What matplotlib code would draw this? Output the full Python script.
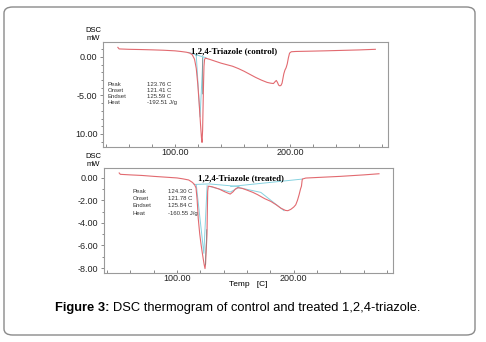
import matplotlib
matplotlib.use("Agg")
import matplotlib.pyplot as plt
from matplotlib.patches import FancyBboxPatch
from matplotlib.ticker import FixedLocator, MultipleLocator

plt.rcParams['font.family'] = ['Liberation Sans', 'DejaVu Sans']

# control run (top)
ctrl_temp = [50.4, 51.5, 60, 70, 80, 90, 100, 105, 110, 113, 115, 117, 118.5, 119.8,
             121, 122.2, 123.0, 123.5, 124.0, 124.4, 124.8, 125.2, 125.7, 126.5, 130,
             135, 140, 145, 150, 155, 160, 165, 170, 175, 180, 183, 185.5, 187, 188,
             189, 190, 191, 192, 193, 193.5, 194.5, 195.5, 196.5, 197.5, 198.5, 199.5,
             201, 205, 215, 230, 245, 260, 274]
ctrl_dsc = [1.25, 1.05, 1.0, 0.97, 0.93, 0.88, 0.8, 0.72, 0.62, 0.5, 0.3, -0.3, -1.5, -3.5,
            -6.0, -8.8, -10.5, -11.1, -9.5, -6.5, -3.5, -1.2, -0.3, -0.15, -0.3,
            -0.55, -0.8, -1.0, -1.2, -1.5, -1.85, -2.25, -2.65, -3.0, -3.3, -3.4, -3.45, -3.2, -3.05,
            -3.3, -3.65, -3.75, -3.7, -3.4, -3.0, -2.2, -1.7, -1.4, -0.9, -0.1, 0.5,
            0.68, 0.72, 0.75, 0.8, 0.86, 0.92, 1.0]
ctrl_base_t = [111.5, 127.0]
ctrl_base_v = [0.6, -0.1]
ctrl_v_t = [118.5, 121.8, 124.3]
ctrl_v_v = [0.2, -7.8, -0.05]
ctrl_end_t = [124.0, 123.8]
ctrl_end_v = [-0.1, -4.8]

# treated run (bottom)
trt_temp = [50.5, 51.5, 60, 70, 80, 90, 100, 105, 110, 113, 115, 116.3, 117.3, 118.2,
            119.5, 120.6, 121.6, 122.5, 123.3, 124.0, 124.5, 125.0, 125.7, 126.0, 126.3,
            126.8, 130, 136, 141, 145.6, 148, 150, 152, 156, 160, 165, 169, 175, 180.4,
            185, 189, 193, 195, 197.5, 200, 201.7, 203.2, 204.6, 205.8, 206.6, 207.1,
            207.4, 210.3, 220, 240, 260, 273]
trt_dsc = [0.42, 0.3, 0.25, 0.2, 0.12, 0.05, -0.02, -0.1, -0.2, -0.4, -0.6, -0.9, -2.0, -3.6,
           -5.0, -5.9, -6.6, -7.2, -7.7, -8.05, -7.6, -6.5, -5.0, -3.0, -1.2,
           -0.75, -0.8, -1.0, -1.25, -1.45, -1.25, -1.0, -0.88, -0.95, -1.1, -1.3, -1.5, -1.85, -2.1,
           -2.4, -2.7, -2.9, -2.92, -2.8, -2.6, -2.4, -2.0, -1.5, -1.0, -0.75, -0.3,
           -0.12, -0.03, 0.02, 0.12, 0.25, 0.35]
trt_base_a_t = [114.5, 127.5, 153.0]
trt_base_a_v = [-0.6, -0.55, -0.78]
trt_base_b_t = [146.0, 207.4]
trt_base_b_v = [-0.78, -0.12]
trt_dip_t = [127.6, 145.6, 153.3]
trt_dip_v = [-0.76, -1.27, -0.85]
trt_broad_t = [151.9, 171.8, 191.7]
trt_broad_v = [-0.85, -1.3, -2.92]
trt_v_t = [116.5, 123.0, 125.8]
trt_v_v = [-0.6, -6.7, -0.7]
trt_end_t = [125.5, 124.3]
trt_end_v = [-4.6, -7.7]

ctrl_labels = ["Peak", "Onset", "Endset", "Heat"]
ctrl_values = ["123.76 C", "121.41 C", "125.59 C", "-192.51 J/g"]
trt_values = ["124.30 C", "121.78 C", "125.84 C", "-160.55 J/g"]

W, H = 486, 342
fig = plt.figure(figsize=(W / 100, H / 100), dpi=100)

# rounded frame round the figure
frame = FancyBboxPatch((4 / W, 7 / H), 471 / W, 328 / H, boxstyle="round,pad=0,rounding_size=0.018",
                       transform=fig.transFigure, fill=False, edgecolor='#8a8a8a', linewidth=1.0)
fig.patches.append(frame)

red = '#e26a70'
cyan = '#86d2e0'
serif = ['Liberation Serif', 'DejaVu Serif']


def style_axes(ax, ylim, yticks, ylabels, yminor):
    ax.set_xlim(37.5, 285)
    ax.set_ylim(*ylim)
    ax.xaxis.set_major_locator(FixedLocator([100, 200]))
    ax.set_xticklabels(["100.00", "200.00"])
    ax.xaxis.set_minor_locator(MultipleLocator(20))
    ax.yaxis.set_major_locator(FixedLocator(yticks))
    ax.set_yticklabels(ylabels)
    ax.yaxis.set_minor_locator(MultipleLocator(yminor))
    ax.tick_params(which='both', labelsize=6.5, color='#777777', width=0.6, labelcolor='#222222')
    ax.tick_params(axis='y', which='major', length=2.5, pad=1.5)
    ax.tick_params(axis='y', which='minor', length=1.5)
    ax.tick_params(axis='x', which='both', direction='in', length=2, pad=1)
    for s in ax.spines.values():
        s.set_color('#9a9a9a')
        s.set_linewidth(0.8)


# top panel
ax1 = fig.add_axes([103 / W, 1 - 147 / H, 285 / W, 105 / H])
ax1.plot(ctrl_base_t, ctrl_base_v, color=cyan, lw=0.7)
ax1.plot(ctrl_v_t, ctrl_v_v, color=cyan, lw=0.7)
ax1.plot(ctrl_temp, ctrl_dsc, color=red, lw=0.8)
ax1.plot(ctrl_end_t, ctrl_end_v, color='#808080', lw=0.5)
style_axes(ax1, (-11.7, 1.95), [0, -5, -10], ["0.00", "-5.00", "10.00"], 1)
ax1.text(0.46, 0.91, "1,2,4-Triazole (control)", transform=ax1.transAxes, ha='center', va='center',
         fontsize=6.3, fontweight='bold', family=serif)

# bottom panel
ax2 = fig.add_axes([104 / W, 1 - 273 / H, 289 / W, 105 / H])
ax2.plot(trt_base_a_t, trt_base_a_v, color=cyan, lw=0.7)
ax2.plot(trt_base_b_t, trt_base_b_v, color=cyan, lw=0.7)
ax2.plot(trt_dip_t, trt_dip_v, color=cyan, lw=0.7)
ax2.plot(trt_broad_t, trt_broad_v, color=cyan, lw=0.7)
ax2.plot(trt_v_t, trt_v_v, color=cyan, lw=0.7)
ax2.plot(trt_temp, trt_dsc, color=red, lw=0.8)
ax2.plot(trt_end_t, trt_end_v, color='#808080', lw=0.5)
style_axes(ax2, (-8.44, 0.86), [0, -2, -4, -6, -8], ["0.00", "-2.00", "-4.00", "-6.00", "-8.00"], 1)
ax2.text(0.475, 0.9, "1,2,4-Triazole (treated)", transform=ax2.transAxes, ha='center', va='center',
         fontsize=6.3, fontweight='bold', family=serif)

# y unit labels
for y1, y2 in [(31, 38), (156, 164)]:
    fig.text(93 / W, 1 - y1 / H, "DSC", ha='center', va='center', fontsize=5.5)
    fig.text(93 / W, 1 - y2 / H, "mW", ha='center', va='center', fontsize=5.5)

# result tables
for i, (lab, val) in enumerate(zip(ctrl_labels, ctrl_values)):
    y = 84.3 + i * 6
    fig.text(108 / W, 1 - y / H, lab, ha='left', va='center', fontsize=4.3, color='#333333')
    fig.text(147 / W, 1 - y / H, val, ha='left', va='center', fontsize=4.3, color='#333333')
for i, (lab, val) in enumerate(zip(ctrl_labels, trt_values)):
    y = 191.7 + i * 7.1
    fig.text(132.5 / W, 1 - y / H, lab, ha='left', va='center', fontsize=4.3, color='#333333')
    fig.text(168 / W, 1 - y / H, val, ha='left', va='center', fontsize=4.3, color='#333333')

fig.text(248 / W, 1 - 284 / H, "Temp   [C]", ha='center', va='center', fontsize=6)

# caption: bold lead-in, then regular text right after it
cap1 = fig.text(55 / W, 1 - 308.5 / H, "Figure 3:", ha='left', va='center', fontsize=9.3, fontweight='bold')
fig.canvas.draw()
bb = cap1.get_window_extent()
fig.text((bb.x1 + 3) / W, 1 - 308.5 / H, "DSC thermogram of control and treated 1,2,4-triazole.",
         ha='left', va='center', fontsize=9.3)

fig.savefig("out.png", dpi=100)
